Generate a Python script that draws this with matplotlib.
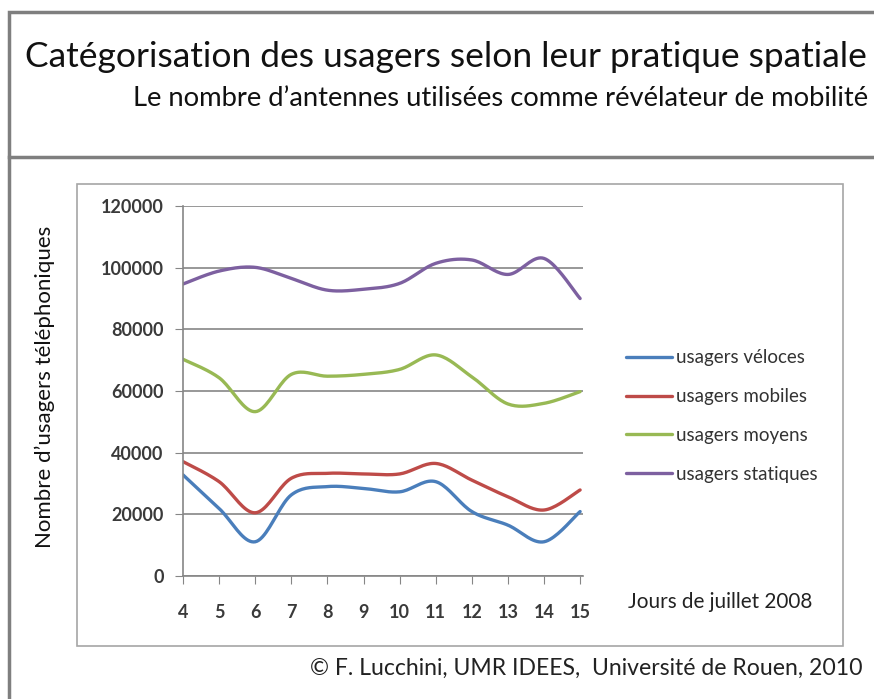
import numpy as np
import matplotlib.pyplot as plt
from matplotlib.patches import Rectangle
from matplotlib.lines import Line2D

plt.rcParams['font.family'] = ['Lato', 'DejaVu Sans']

# jours de juillet 2008
jours = [4, 5, 6, 7, 8, 9, 10, 11, 12, 13, 14, 15]
veloces = [32800, 21900, 11100, 26300, 29000, 28400, 27300, 30600, 20900, 16500, 11100, 20900]
mobiles = [37100, 30600, 20500, 31700, 33300, 33100, 33100, 36500, 31100, 25700, 21400, 27900]
moyens = [70300, 64300, 53300, 65400, 64800, 65400, 67000, 71700, 64600, 55800, 56000, 59800]
statiques = [94700, 98900, 100100, 96500, 92700, 93000, 94900, 101400, 102500, 97800, 103000, 90000]

series = [
    ('usagers véloces', veloces, '#4A7EBB'),
    ('usagers mobiles', mobiles, '#BE4B48'),
    ('usagers moyens', moyens, '#98B954'),
    ('usagers statiques', statiques, '#7D60A0'),
]


def smooth(x, y, n=20):
    # courbe lissée type Catmull-Rom passant par chaque point
    x = np.asarray(x, float)
    y = np.asarray(y, float)
    px = np.concatenate([[x[0]], x, [x[-1]]])
    py = np.concatenate([[y[0]], y, [y[-1]]])
    xs, ys = [], []
    t = np.linspace(0, 1, n, endpoint=False)
    for i in range(1, len(px) - 2):
        for p, out in ((px, xs), (py, ys)):
            p0, p1, p2, p3 = p[i - 1], p[i], p[i + 1], p[i + 2]
            c1 = p1 + (p2 - p0) / 6
            c2 = p2 - (p3 - p1) / 6
            out.extend((1 - t) ** 3 * p1 + 3 * (1 - t) ** 2 * t * c1
                       + 3 * (1 - t) * t ** 2 * c2 + t ** 3 * p2)
    xs.append(x[-1])
    ys.append(y[-1])
    return np.array(xs), np.array(ys)


W, H = 874, 699
fig = plt.figure(figsize=(W / 100, H / 100), dpi=100)

# cadre extérieur et séparation du titre
fig.patches.append(Rectangle((9 / W, -0.1), 2, 1.1 - 12 / H, transform=fig.transFigure,
                             fill=False, edgecolor='#7f7f7f', linewidth=2.5))
fig.add_artist(Line2D([9 / W, 1], [1 - 157 / H] * 2, color='#7f7f7f', linewidth=2.5))
# cadre du graphique
fig.patches.append(Rectangle((77 / W, 1 - 646 / H), (843 - 77) / W, (646 - 184) / H,
                             transform=fig.transFigure, fill=False,
                             edgecolor='#a6a6a6', linewidth=1.2))

fig.text(25 / W, 1 - 57 / H, 'Catégorisation des usagers selon leur pratique spatiale',
         fontsize=25.5, va='center', ha='left', color='#111111')
fig.text(133 / W, 1 - 98 / H, 'Le nombre d\u2019antennes utilisées comme révélateur de mobilité',
         fontsize=19.7, va='center', ha='left', color='#111111')

ax = fig.add_axes([183 / W, 1 - 576 / H, (583 - 183) / W, (576 - 206) / H])
for label, vals, col in series:
    sx, sy = smooth(jours, vals)
    ax.plot(sx, sy, color=col, linewidth=2.4, solid_capstyle='round', label=label)

ax.set_xlim(4, 15.08)
ax.set_ylim(0, 120000)
ax.set_yticks(np.arange(0, 120001, 20000))
ax.set_xticks(jours)
ax.grid(axis='y', color='#868686', linewidth=1.2)
ax.set_axisbelow(True)
for s in ('top', 'right'):
    ax.spines[s].set_visible(False)
for s in ('left', 'bottom'):
    ax.spines[s].set_color('#868686')
    ax.spines[s].set_linewidth(1.2)
ax.tick_params(axis='y', direction='out', length=6, color='#868686', labelsize=13,
               labelcolor='#3a3a3a', pad=8)
ax.tick_params(axis='x', direction='out', length=6, color='#868686', labelsize=13,
               labelcolor='#3a3a3a', pad=14)
for lab in ax.get_xticklabels() + ax.get_yticklabels():
    lab.set_fontweight('bold')

ax.set_ylabel('Nombre d\u2019usagers téléphoniques', fontsize=16, color='#111111')
ax.yaxis.set_label_coords(-(183 - 55) / (583 - 183), 0.51)

leg = ax.legend(loc='upper left', bbox_to_anchor=((618 - 183) / (583 - 183), (576 - 342) / 370),
                frameon=False, fontsize=13.5, handlelength=2.5, labelspacing=1.16,
                handletextpad=0.2, borderaxespad=0)
for t in leg.get_texts():
    t.set_color('#333333')

fig.text(628 / W, 1 - 602 / H, 'Jours de juillet 2008', fontsize=14.9, va='center',
         ha='left', color='#222222')
fig.text(862 / W, 1 - 668 / H, '\u00a9 F. Lucchini, UMR IDEES,  Université de Rouen, 2010',
         fontsize=16.6, va='center', ha='right', color='#222222')

fig.savefig('out.png', dpi=100)
